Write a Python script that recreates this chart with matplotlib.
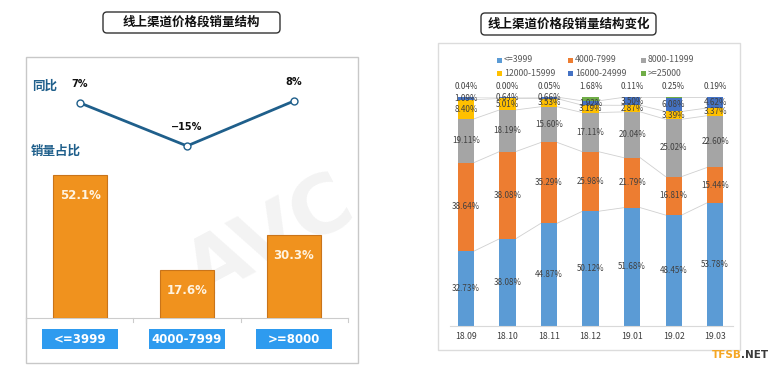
import matplotlib
matplotlib.use("Agg")
import matplotlib.pyplot as plt
from matplotlib.patches import Rectangle, FancyBboxPatch

plt.rcParams['font.family'] = ['Noto Sans CJK SC', 'DejaVu Sans']

# left chart data
price_bands = ['<=3999', '4000-7999', '>=8000']
share = [52.1, 17.6, 30.3]
yoy = [7, -15, 8]

# right chart data
months = ['18.09', '18.10', '18.11', '18.12', '19.01', '19.02', '19.03']
series_names = ['<=3999', '4000-7999', '8000-11999', '12000-15999', '16000-24999', '>=25000']
s_3999 = [32.73, 38.08, 44.87, 50.12, 51.68, 48.45, 53.78]
s_7999 = [38.64, 38.08, 35.29, 25.98, 21.79, 16.81, 15.44]
s_11999 = [19.11, 18.19, 15.60, 17.11, 20.04, 25.02, 22.60]
s_15999 = [8.40, 5.01, 3.53, 3.19, 2.87, 3.39, 3.37]
s_24999 = [1.09, 0.64, 0.66, 1.92, 3.50, 6.08, 4.62]
s_25000 = [0.04, 0.00, 0.05, 1.68, 0.11, 0.25, 0.19]
series = [s_3999, s_7999, s_11999, s_15999, s_24999, s_25000]
colors = ['#5B9BD5', '#ED7D31', '#A5A5A5', '#FFC000', '#4472C4', '#70AD47']

W, H = 780, 376
fig = plt.figure(figsize=(W / 100, H / 100), dpi=100)


def box(x0, y0, x1, y1):
    # pixel box (top-left origin) -> figure fraction
    return [x0 / W, 1 - y1 / H, (x1 - x0) / W, (y1 - y0) / H]


# overlay in pixel coordinates for frames, boxes and free text
ov = fig.add_axes([0, 0, 1, 1], zorder=0)
ov.set_xlim(0, W)
ov.set_ylim(H, 0)
ov.axis('off')

# watermark
ov.text(270, 240, 'AVC', fontsize=58, fontweight='bold', color='#000000', alpha=0.05,
        rotation=28, ha='center', va='center', family='DejaVu Sans')

# panel frames
ov.add_patch(Rectangle((26, 57), 332, 306, fill=False, ec='#C8C8C8', lw=1))
ov.add_patch(Rectangle((438, 43), 302, 307, fill=False, ec='#DCDCDC', lw=1))

# title boxes
for (x0, y0, x1, y1), title in [((103, 12, 280, 33), '线上渠道价格段销量结构'),
                                ((481, 13, 656, 35), '线上渠道价格段销量结构变化')]:
    ov.add_patch(FancyBboxPatch((x0, y0), x1 - x0, y1 - y0,
                                boxstyle='round,pad=0,rounding_size=4',
                                fc='white', ec='#333333', lw=1))
    ov.text((x0 + x1) / 2, (y0 + y1) / 2, title, fontsize=9, fontweight='bold',
            ha='center', va='center', color='#111111')

# left chart side labels
ov.text(32, 86, '同比', fontsize=9, fontweight='bold', color='#1F5F8B', va='center')
ov.text(31, 151, '销量占比', fontsize=9, fontweight='bold', color='#1F5F8B', va='center')

# baseline with separators
ov.plot([26, 348], [318, 318], color='#CCCCCC', lw=0.8)
for xs in [26, 133, 241, 348]:
    ov.plot([xs, xs], [318, 322], color='#CCCCCC', lw=0.8)

# category label boxes
for cx, lab in zip([80, 187, 294], price_bands):
    ov.add_patch(Rectangle((cx - 38, 329), 76, 20, fc='#2E9BEF', ec='none'))
    ov.text(cx, 339.5, lab, fontsize=8.5, fontweight='bold', color='white',
            ha='center', va='center', family='DejaVu Sans')

# TFSB watermark
ov.text(712, 355, 'TFSB', fontsize=7.5, fontweight='bold', color='#F5A623',
        ha='left', va='center', family='DejaVu Sans')
ov.text(741, 355, '.NET', fontsize=7.5, fontweight='bold', color='#3A3A3A',
        ha='left', va='center', family='DejaVu Sans')

# ---- left bars ----
axb = fig.add_axes(box(26, 57, 348, 318), zorder=2)
axb.patch.set_alpha(0)
xs = range(len(price_bands))
axb.bar(xs, share, width=0.505, color='#F0921E', edgecolor='#C9741A', linewidth=0.8)
axb.set_xlim(-0.505, 2.505)
axb.set_ylim(0, 261 / 2.75)
axb.axis('off')
for x, v in zip(xs, share):
    axb.text(x, v - 7.5, f'{v:.1f}%', ha='center', va='center', color='#FFF3E0',
             fontsize=8.5, fontweight='bold', family='DejaVu Sans')

# ---- yoy line ----
axl = fig.add_axes(box(26, 57, 348, 318), zorder=3)
axl.patch.set_alpha(0)
axl.plot(xs, yoy, color='#1F5F8B', lw=2, marker='o', ms=5, mfc='white', mec='#1F5F8B', mew=1)
axl.set_xlim(-0.505, 2.505)
axl.set_ylim(-103, 30.5)
axl.axis('off')
for x, v in zip(xs, yoy):
    lab = f'{v}%'.replace('-', '\u2212')
    axl.annotate(lab, (x, v), xytext=(0, 10), textcoords='offset points',
                 ha='center', va='bottom', fontsize=7, fontweight='bold', color='#111111',
                 family='DejaVu Sans')

# ---- right stacked bars ----
axr = fig.add_axes(box(450, 97, 733, 326), zorder=2)
axr.patch.set_alpha(0)
n = len(months)
bw = 0.39
bottom = [0.0] * n
tops = []
for vals, col in zip(series, colors):
    axr.bar(range(n), vals, bottom=bottom, width=bw, color=col, zorder=2)
    top = [b + v for b, v in zip(bottom, vals)]
    tops.append((bottom[:], top))
    bottom = top

# series lines between bars
for _, top in tops[:-1]:
    for i in range(n - 1):
        axr.plot([i + bw / 2, i + 1 - bw / 2], [top[i], top[i + 1]],
                 color='#D0D0D0', lw=0.6, zorder=1)

# segment labels
for k, (bots, top) in enumerate(tops):
    for i in range(n):
        v = series[k][i]
        if k == len(series) - 1:
            axr.text(i, 102.5, f'{v:.2f}%', ha='center', va='bottom', fontsize=5.8,
                     color='#404040', clip_on=False)
        else:
            axr.text(i, (bots[i] + top[i]) / 2, f'{v:.2f}%', ha='center', va='center',
                     fontsize=5.8, color='#404040', zorder=3)

axr.set_xlim(-0.386, 6.43)
axr.set_ylim(0, 100)
axr.set_xticks(range(n))
axr.set_xticklabels(months, fontsize=6.3, color='#404040')
axr.tick_params(axis='x', length=0, pad=4)
axr.set_yticks([])
for sp in ['top', 'left', 'right']:
    axr.spines[sp].set_visible(False)
axr.spines['bottom'].set_color('#D9D9D9')

# legend drawn in pixel space
leg_x = [499, 570, 643]
leg_y = [60, 73]
for idx, (name, col) in enumerate(zip(series_names, colors)):
    lx = leg_x[idx % 3]
    ly = leg_y[idx // 3]
    ov.add_patch(Rectangle((lx - 2.5, ly - 2.5), 5, 5, fc=col, ec='none'))
    ov.text(lx + 5, ly, name, fontsize=6.3, color='#595959', va='center', ha='left')

fig.savefig('out.png', dpi=100)
